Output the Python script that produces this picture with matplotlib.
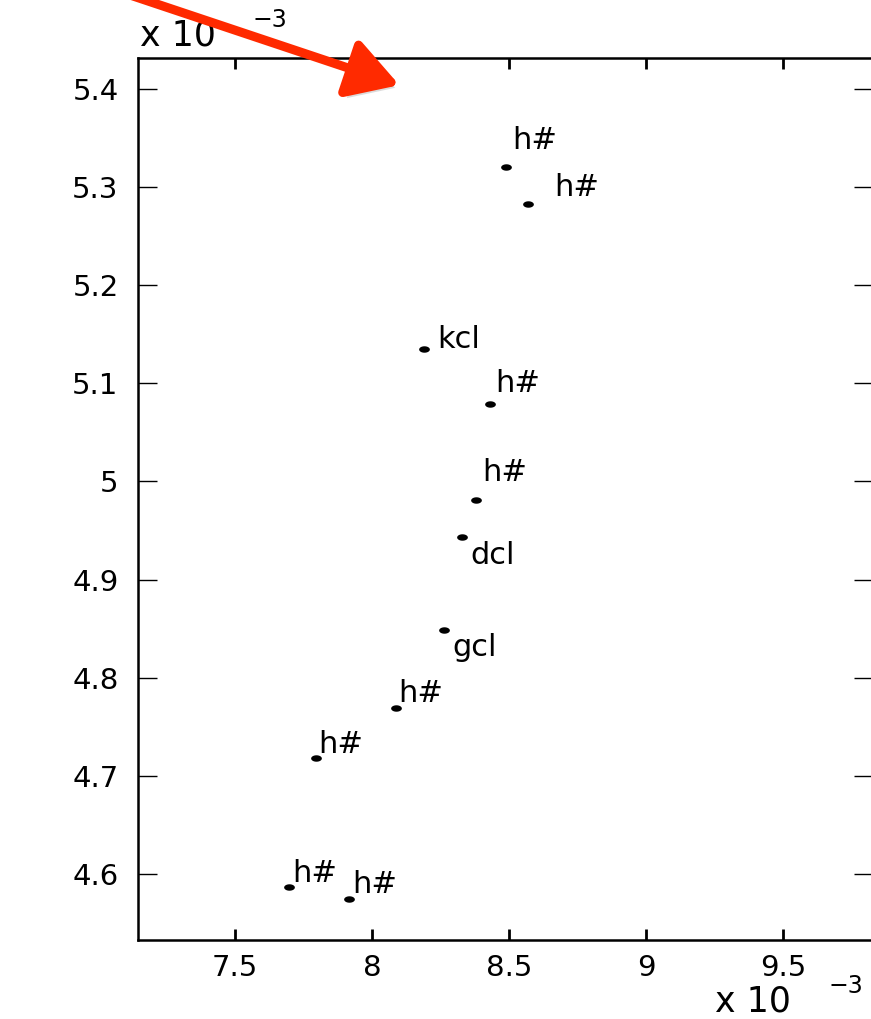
import numpy as np
import matplotlib.pyplot as plt
import matplotlib.patheffects as pe
from matplotlib.patches import FancyArrowPatch

# coordonnees des segments (x 1e-3)
xs = [8.489, 8.569, 8.190, 8.431, 8.380, 8.328, 8.263, 8.088, 7.796, 7.697, 7.916]
ys = [5.3205, 5.2828, 5.135, 5.0789, 4.981, 4.9433, 4.8485, 4.769, 4.718, 4.5865, 4.5743]
labels = ['h#', 'h#', 'kcl', 'h#', 'h#', 'dcl', 'gcl', 'h#', 'h#', 'h#', 'h#']

# decalage du texte par rapport au point (pixels)
offs = [(6, 27), (26, 17), (13, 10), (5, 21), (6, 28), (8, -18), (8, -17), (2, 15), (2, 14), (3, 14), (3, 15)]

xticks = [7.5, 8, 8.5, 9, 9.5]
yticks = [4.6, 4.7, 4.8, 4.9, 5.0, 5.1, 5.2, 5.3, 5.4]

plt.rcParams['font.family'] = ['DejaVu Sans']

fig = plt.figure(figsize=(8.71, 10.19), dpi=100)
ax = fig.add_axes([138/871, 1-940/1019, 735/871, 882/1019])

t = np.linspace(0, 2*np.pi, 30)
dot = np.column_stack([np.cos(t), 0.6*np.sin(t)])
ax.scatter(xs, ys, marker=dot, s=60, color='black', linewidths=0)

for x, y, lab, (dx, dy) in zip(xs, ys, labels, offs):
    ax.annotate(lab, (x, y), xytext=(dx*0.72, dy*0.72), textcoords='offset points',
                ha='left', va='center', fontsize=22)

ax.set_xlim(7.146, 9.828)
ax.set_ylim(4.5327, 5.4316)
ax.set_xticks(xticks)
ax.set_xticklabels(['7.5', '8', '8.5', '9', '9.5'])
ax.set_yticks(yticks)
ax.set_yticklabels(['4.6', '4.7', '4.8', '4.9', '5', '5.1', '5.2', '5.3', '5.4'])
ax.tick_params(axis='x', direction='in', length=8, width=2, labelsize=21, pad=10,
               top=True, bottom=True)
ax.tick_params(axis='y', direction='in', length=14, width=1, labelsize=21, pad=14,
               left=True, right=True)
for s in ax.spines.values():
    s.set_linewidth(1.8)

fig.text(140/871, 1-46/1019, 'x 10', fontsize=25, ha='left', va='baseline')
fig.text(252/871, 1-27/1019, '\u22123', fontsize=17, ha='left', va='baseline')
fig.text(715/871, 1-1012/1019, 'x 10', fontsize=25, ha='left', va='baseline')
fig.text(828/871, 1-993/1019, '\u22123', fontsize=17, ha='left', va='baseline')

# fleche rouge
arr = FancyArrowPatch((100/871, 1+15/1019), (402/871, 1-86/1019), transform=fig.transFigure,
                      arrowstyle='-|>,head_length=1.7,head_width=1.0', mutation_scale=18,
                      color='#ff2a00', lw=6.5, zorder=10,
                      path_effects=[pe.SimplePatchShadow(offset=(3, -4), shadow_rgbFace='#999999', alpha=0.35),
                                    pe.Normal()])
fig.patches.append(arr)

fig.savefig('out.png', dpi=100)
